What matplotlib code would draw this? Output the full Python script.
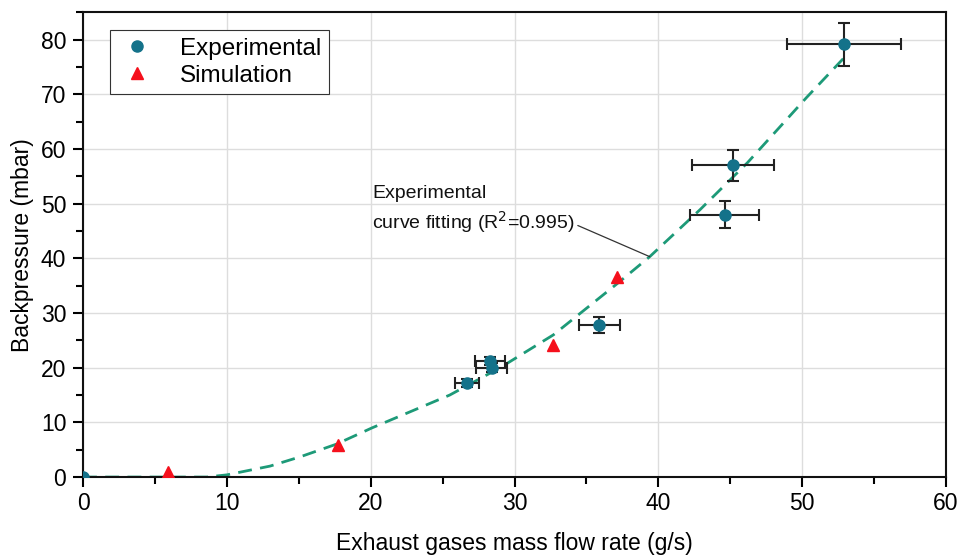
import matplotlib
matplotlib.use("Agg")
import matplotlib.pyplot as plt
from matplotlib.ticker import MultipleLocator
from matplotlib.lines import Line2D

plt.rcParams['font.family'] = ['Liberation Sans', 'DejaVu Sans']

# Experimental data (x, y, x-error, y-error)
exp_x = [0.0, 26.7, 28.3, 28.4, 35.9, 44.6, 45.2, 52.9]
exp_y = [0.0, 17.2, 21.2, 20.0, 27.8, 48.0, 57.0, 79.1]
exp_xerr = [0.0, 0.85, 1.05, 1.05, 1.4, 2.4, 2.85, 3.95]
exp_yerr = [0.0, 0.7, 0.8, 0.8, 1.5, 2.4, 2.85, 3.95]

# Simulation data
sim_x = [5.9, 17.7, 32.7, 37.1]
sim_y = [0.9, 5.9, 24.2, 36.6]

# Fitted curve
fit_x = [0, 8.6, 10, 13, 15.1, 17.6, 20.1, 25.5, 29.0, 32.7, 37.2, 39.4, 42.9, 46.2, 50.3, 52.85]
fit_y = [0, 0, 0.4, 2.0, 3.7, 6.0, 9.0, 15.0, 20.0, 26.0, 35.5, 40.3, 48.9, 57.5, 69.4, 76.5]

teal = '#14728a'
red = '#f5101c'
green = '#1d9a78'

fig = plt.figure(figsize=(9.62, 5.56), dpi=100)
ax = fig.add_axes([0.0863, 0.142, 0.8971, 0.836])

ax.grid(True, color='#dddddd', lw=1.0, zorder=0)
ax.set_axisbelow(True)

ax.plot(fit_x, fit_y, ls=(0, (5, 3)), color=green, lw=2.0, zorder=2)

ax.errorbar(exp_x, exp_y, xerr=exp_xerr, yerr=exp_yerr, fmt='o', color=teal,
            ms=8, ecolor='#222222', elinewidth=1.5, capsize=4.5, capthick=1.5,
            zorder=3)
ax.plot(sim_x, sim_y, '^', color=red, ms=9, ls='none', zorder=4)

ax.text(20.1, 48.8, 'Experimental\ncurve fitting (R$^2$=0.995)', fontsize=14,
        ha='left', va='center', linespacing=1.38, color='#111111')
ax.annotate('', xy=(39.4, 40.3), xytext=(34.4, 46.0),
            arrowprops=dict(arrowstyle='-', color='#333333', lw=0.9,
                            shrinkA=0, shrinkB=0))

ax.set_xlim(0, 60)
ax.set_ylim(0, 85)
ax.xaxis.set_major_locator(MultipleLocator(10))
ax.xaxis.set_minor_locator(MultipleLocator(5))
ax.yaxis.set_major_locator(MultipleLocator(10))
ax.yaxis.set_minor_locator(MultipleLocator(5))
ax.set_yticks(range(0, 81, 10))
ax.tick_params(which='major', direction='out', length=7, width=1.5, labelsize=16.5, pad=5)
ax.tick_params(which='minor', direction='out', length=5, width=1.5)
ax.tick_params(axis='x', which='major', pad=4)
for s in ax.spines.values():
    s.set_linewidth(1.5)
    s.set_color('#111111')

ax.set_xlabel('Exhaust gases mass flow rate (g/s)', fontsize=16.5, labelpad=12)
ax.set_ylabel('Backpressure (mbar)', fontsize=16.5, labelpad=5)

h = [Line2D([], [], marker='o', color=teal, ls='none', ms=8),
     Line2D([], [], marker='^', color=red, ls='none', ms=9)]
leg = ax.legend(h, ['Experimental', 'Simulation'], loc='upper left',
                bbox_to_anchor=(0.031, 0.961), fontsize=17.5, frameon=True,
                fancybox=False, edgecolor='#333333', framealpha=1,
                handletextpad=1.0, borderpad=0.3, labelspacing=0.2,
                handlelength=1.6, borderaxespad=0)
leg.get_frame().set_linewidth(0.8)

fig.savefig('out.png', dpi=100)
